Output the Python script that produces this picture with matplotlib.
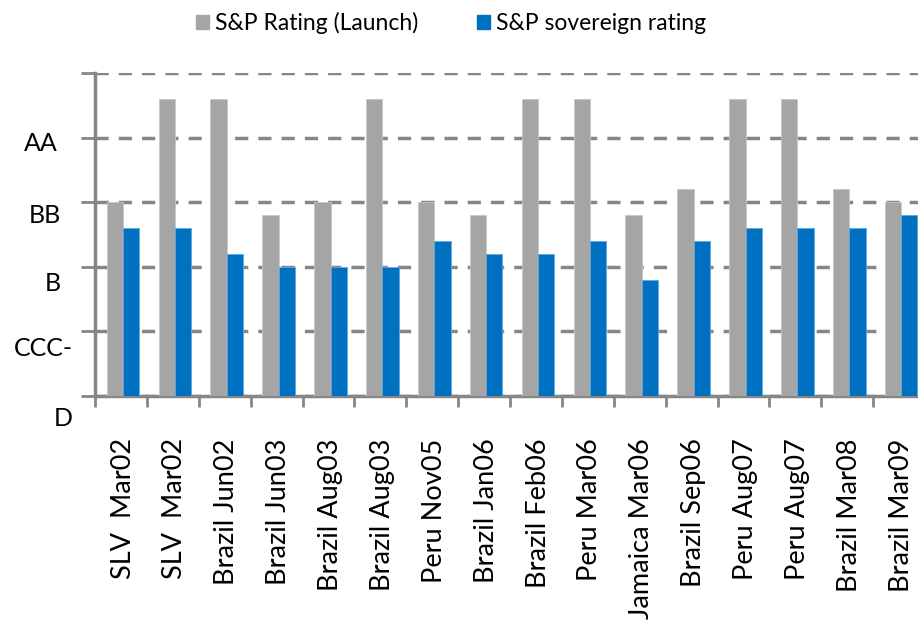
import numpy as np
import matplotlib
matplotlib.use('Agg')
import matplotlib.pyplot as plt
from matplotlib.patches import Patch

# deals and ratings (notch scale, D = 0)
deals = ['SLV  Mar02', 'SLV  Mar02', 'Brazil Jun02', 'Brazil Jun03', 'Brazil Aug03',
         'Brazil Aug03', 'Peru Nov05', 'Brazil Jan06', 'Brazil Feb06', 'Peru Mar06',
         'Jamaica Mar06', 'Brazil Sep06', 'Peru Aug07', 'Peru Aug07', 'Brazil Mar08',
         'Brazil Mar09']
launch_rating = [15, 23, 23, 14, 15, 23, 15, 14, 23, 23, 14, 16, 23, 23, 16, 15]
sovereign_rating = [13, 13, 11, 10, 10, 10, 12, 11, 11, 12, 9, 12, 13, 13, 13, 14]
rating_ticks = [0, 5, 10, 15, 20, 25]
rating_labels = ['D', 'CCC-', 'B', 'BB', 'AA', '']

plt.rcParams['font.family'] = ['Lato', 'DejaVu Sans']

fig = plt.figure(figsize=(9.18, 6.23), dpi=100)
ax = fig.add_axes([95 / 918, 227 / 623, 830 / 918, 323 / 623])

x = np.arange(len(deals))
w = 0.315
gray = '#A5A5A5'
blue = '#0070C0'
axis_col = '#868686'

ax.bar(x - w / 2 + 0.04, launch_rating, w, color=gray, edgecolor='#C8C8C8', linewidth=0.6, zorder=3)
ax.bar(x + w / 2 + 0.04, sovereign_rating, w, color=blue, edgecolor='#5FA8DC', linewidth=0.6, zorder=3)

ax.set_xlim(-0.5, len(deals) - 0.5)
ax.set_ylim(0, 25)

# y labels sit a little below their gridlines, as in the original (offsets in points)
label_offsets = [(-16, -16), (-16, -12), (-24.5, -12), (-24.5, -9.6), (-26.6, -4.5), (0, 0)]
ax.set_yticks(rating_ticks)
ax.set_yticklabels([])
for v, lab, off in zip(rating_ticks, rating_labels, label_offsets):
    ax.annotate(lab, xy=(-0.5, v), xytext=off, textcoords='offset points',
                ha='right', va='center', fontsize=18, annotation_clip=False)
ax.yaxis.grid(True, linestyle=(0, (3.8, 2.9)), color=axis_col, linewidth=2.5, zorder=0)
ax.tick_params(axis='y', length=10, width=2, color=axis_col, direction='out')

ax.set_xticks(np.arange(len(deals) + 1) - 0.5)
ax.set_xticklabels([])
ax.tick_params(axis='x', length=8, width=2, color=axis_col, direction='out')
for i, lab in enumerate(deals):
    ax.annotate(lab, xy=(i + 0.04, 0), xytext=(0, -30.5), textcoords='offset points',
                rotation=90, ha='center', va='top', fontsize=19.5, annotation_clip=False)

for s in ['top', 'right']:
    ax.spines[s].set_visible(False)
for s in ['left', 'bottom']:
    ax.spines[s].set_color(axis_col)
    ax.spines[s].set_linewidth(2.5)

handles = [Patch(color=gray, label='S&P Rating (Launch)'),
           Patch(color=blue, label='S&P sovereign rating')]
fig.legend(handles=handles, loc='center', bbox_to_anchor=(451 / 918, 1 - 23 / 623),
           ncol=2, frameon=False, fontsize=16.5, handlelength=0.55, handleheight=0.55,
           handletextpad=0.25, columnspacing=2.6)

fig.savefig('out.png', dpi=100)
